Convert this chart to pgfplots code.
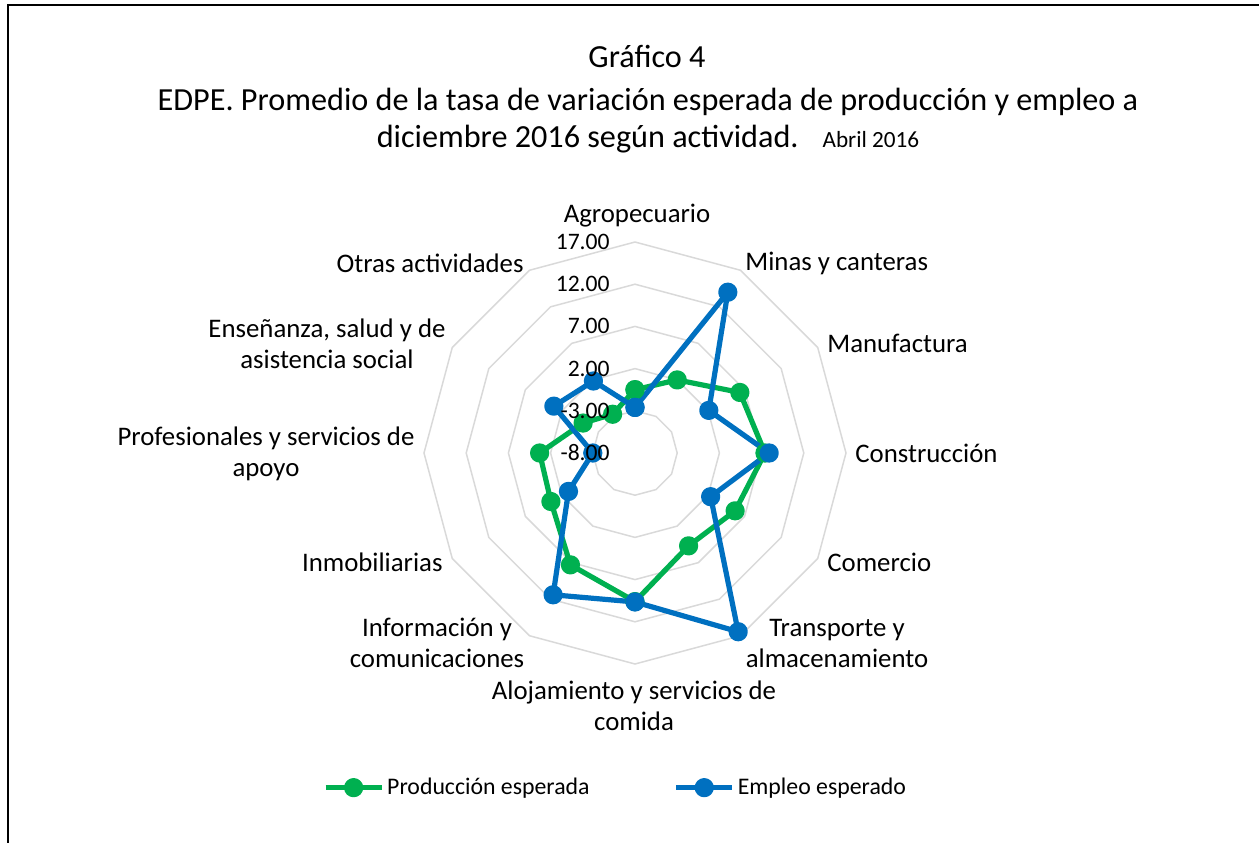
\documentclass[border=0pt]{standalone}
\usepackage{pgfplots}
\pgfplotsset{compat=1.18}
\usepackage{pgfplotstable}
\usepackage{fontspec}
\setmainfont{Carlito}
\definecolor{prodc}{HTML}{00B050}
\definecolor{empc}{HTML}{0070C0}
\definecolor{ringc}{HTML}{D9D9D9}
% i = category index (clockwise from top), values as in the chart
\pgfplotstableread{
i prod emp
0 -0.5 -2.6
1 2.0 14.0
2 6.35 2.1
3 7.4 7.9
4 5.7 2.35
5 4.7 16.45
6 9.6 9.65
7 7.3 11.4
8 3.5 1.1
9 3.3 -3.0
10 -0.9 3.1
11 -2.7 1.85
12 -0.5 -2.6
}\datatable
\begin{document}
\begin{tikzpicture}
\useasboundingbox (-317.5pt,-194.5pt) rectangle (312pt,226.5pt);
\draw[line width=1pt] (-313.4pt,-196pt) -- (-313.4pt,223.9pt) -- (314pt,223.9pt);
\begin{axis}[
  hide axis, anchor=origin, at={(0pt,0pt)},
  x=4.22pt, y=4.22pt,
  xmin=-25, xmax=25, ymin=-25, ymax=25,
  clip=false,
  legend columns=2,
  legend style={at={(axis description cs:0.455,-0.293)}, anchor=center, draw=none, fill=none,
    font=\fontsize{11.9}{14}\selectfont, nodes={inner sep=1.5pt},
    /tikz/every even column/.append style={column sep=40.5pt}},
  legend image code/.code={\draw[#1, mark repeat=2, mark phase=2] plot coordinates {(0pt,0pt) (14pt,0pt) (28pt,0pt)};},
]
\pgfplotsinvokeforeach{5,10,15,20,25}{
  \addplot[ringc, line width=0.75pt, domain=0:360, samples=13, forget plot] ({#1*sin(x)},{#1*cos(x)});
}
\addplot[prodc, line width=2.6pt, line join=round, mark=*, mark size=3.5pt, mark options={solid}]
  table[x expr={(\thisrow{prod}+8)*sin(30*\thisrow{i})}, y expr={(\thisrow{prod}+8)*cos(30*\thisrow{i})}] {\datatable};
\addlegendentry{Producción esperada}
\addplot[empc, line width=2.6pt, line join=round, mark=*, mark size=3.5pt, mark options={solid}]
  table[x expr={(\thisrow{emp}+8)*sin(30*\thisrow{i})}, y expr={(\thisrow{emp}+8)*cos(30*\thisrow{i})}] {\datatable};
\addlegendentry{Empleo esperado}
\end{axis}
% value labels
\begin{scope}[every node/.style={font=\fontsize{11.8}{13}\selectfont, anchor=east, inner sep=0pt}]
\node at (-12.5pt,105.5pt) {17.00};
\node at (-12.5pt,84.4pt) {12.00};
\node at (-12.5pt,63.3pt) {7.00};
\node at (-12.5pt,42.2pt) {2.00};
\node at (-12.5pt,21.1pt) {-3.00};
\node at (-12.5pt,0pt) {-8.00};
\end{scope}
% category labels
\begin{scope}[every node/.style={font=\fontsize{13.4}{15.5}\selectfont, inner sep=0pt, align=center}]
\node[anchor=center] at (1pt,118.5pt) {Agropecuario};
\node[anchor=west] at (55pt,95pt) {Minas y canteras};
\node[anchor=west] at (96pt,55pt) {Manufactura};
\node[anchor=west] at (110pt,0pt) {Construcción};
\node[anchor=west] at (96pt,-54.5pt) {Comercio};
\node[anchor=center] at (101pt,-95pt) {Transporte y\\almacenamiento};
\node[anchor=center] at (-0.5pt,-126.5pt) {Alojamiento y servicios de\\comida};
\node[anchor=center] at (-99pt,-95pt) {Información y\\comunicaciones};
\node[anchor=east] at (-96pt,-54.5pt) {Inmobiliarias};
\node[anchor=center] at (-184.5pt,-0.5pt) {Profesionales y servicios de\\apoyo};
\node[anchor=center] at (-154pt,54.5pt) {Enseñanza, salud y de\\asistencia social};
\node[anchor=east] at (-55.5pt,95pt) {Otras actividades};
\end{scope}
% title
\begin{scope}[every node/.style={font=\fontsize{16.1}{19}\selectfont, inner sep=0pt, anchor=base}]
\node at (6pt,193pt) {Gráfico 4};
\node at (6.5pt,171.5pt) {EDPE. Promedio de la tasa de variación esperada de producción y empleo a};
\node at (6.5pt,153pt) {diciembre 2016 según actividad.\hspace{12pt}{\fontsize{11.6}{13}\selectfont Abril 2016}};
\end{scope}
\end{tikzpicture}
\end{document}
